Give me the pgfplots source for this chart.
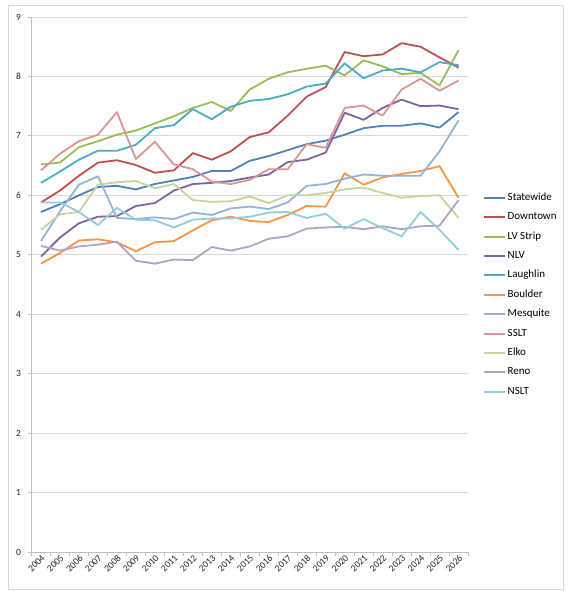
\documentclass[border=0pt]{standalone}
\usepackage{fontspec}
\setmainfont{Carlito}
\usepackage{pgfplots}
\usepackage{pgfplotstable}
\pgfplotsset{compat=1.18}
\definecolor{cState}{HTML}{4F81BD}
\definecolor{cDown}{HTML}{C0504D}
\definecolor{cStrip}{HTML}{9BBB59}
\definecolor{cNLV}{HTML}{8064A2}
\definecolor{cLau}{HTML}{4BACC6}
\definecolor{cBou}{HTML}{F79646}
\definecolor{cMes}{HTML}{95B3D7}
\definecolor{cSSLT}{HTML}{D99694}
\definecolor{cElko}{HTML}{C3D69B}
\definecolor{cReno}{HTML}{B3A2C7}
\definecolor{cNSLT}{HTML}{93CDDD}
\definecolor{gridgray}{HTML}{D9D9D9}
\definecolor{axisgray}{HTML}{BFBFBF}
\pgfplotstableread{
year State Down Strip NLV Lau Bou Mes SSLT Elko Reno NSLT
2004 5.72 5.88 6.52 4.97 6.21 4.85 5.23 6.42 5.42 5.15 5.88
2005 5.85 6.08 6.55 5.29 6.40 5.03 5.73 6.70 5.68 5.07 5.88
2006 6.00 6.33 6.81 5.53 6.60 5.24 6.18 6.91 5.72 5.14 5.72
2007 6.14 6.55 6.91 5.64 6.75 5.26 6.32 7.02 6.18 5.17 5.50
2008 6.16 6.59 7.02 5.65 6.75 5.21 5.62 7.40 6.22 5.22 5.79
2009 6.10 6.51 7.09 5.82 6.85 5.06 5.60 6.61 6.24 4.90 5.59
2010 6.19 6.38 7.21 5.87 7.13 5.21 5.63 6.90 6.12 4.85 5.58
2011 6.25 6.42 7.33 6.08 7.18 5.23 5.60 6.52 6.19 4.92 5.46
2012 6.31 6.71 7.47 6.19 7.45 5.41 5.71 6.44 5.92 4.91 5.59
2013 6.41 6.60 7.57 6.21 7.28 5.58 5.67 6.23 5.89 5.13 5.61
2014 6.41 6.74 7.42 6.24 7.49 5.64 5.78 6.19 5.90 5.07 5.61
2015 6.58 6.98 7.78 6.30 7.59 5.57 5.81 6.26 5.98 5.14 5.64
2016 6.66 7.06 7.96 6.35 7.62 5.55 5.77 6.44 5.87 5.27 5.71
2017 6.76 7.34 8.07 6.56 7.70 5.67 5.88 6.44 6.00 5.31 5.72
2018 6.86 7.66 8.13 6.60 7.83 5.82 6.16 6.86 6.00 5.44 5.62
2019 6.92 7.82 8.18 6.72 7.88 5.81 6.19 6.80 6.04 5.46 5.69
2020 7.02 8.41 8.02 7.39 8.22 6.37 6.28 7.47 6.10 5.47 5.44
2021 7.13 8.34 8.27 7.27 7.97 6.18 6.35 7.51 6.13 5.43 5.60
2022 7.17 8.37 8.17 7.47 8.10 6.30 6.33 7.34 6.04 5.48 5.45
2023 7.17 8.56 8.04 7.61 8.13 6.36 6.33 7.78 5.96 5.43 5.31
2024 7.21 8.50 8.06 7.50 8.07 6.41 6.33 7.96 5.99 5.48 5.72
2025 7.14 8.32 7.85 7.51 8.24 6.49 6.74 7.76 6.00 5.49 5.42
2026 7.40 8.15 8.44 7.45 8.19 5.96 7.26 7.93 5.62 5.92 5.08
}\data
\begin{document}
\begin{tikzpicture}[x=1bp,y=1bp]
\path[fill=white] (0,0) rectangle (573,600);
\draw[color=gridgray, line width=0.8bp] (8,11) rectangle (563,595);
\begin{axis}[
  at={(31.5bp,48bp)}, anchor=south west,
  scale only axis, width=436.5bp, height=535bp,
  xmin=2003.5, xmax=2026.5, ymin=0, ymax=9,
  axis x line*=bottom, axis y line*=left,
  axis line style={draw=axisgray, line width=0.8bp, -},
  xtick={2004,2005,...,2026}, ytick={0,1,...,9},
  minor xtick={2003.5,2004.5,...,2026.5},
  minor ytick={0,1,...,9},
  major tick length=0pt, minor tick length=4bp,
  tick align=outside,
  minor tick style={draw=axisgray, line width=0.8bp},
  ymajorgrids, major grid style={draw=gridgray, line width=0.8bp},
  /pgf/number format/assume math mode=true,
  /pgf/number format/1000 sep={},
  ticklabel style={font=\fontsize{9.5}{11}\selectfont, text=black!85},
  xticklabel style={rotate=45, anchor=north east, inner sep=1.5bp},
  yticklabel style={inner sep=2bp, xshift=-8.5bp},
  legend cell align=left,
  legend image code/.code={\draw[#1, line width=2bp] (0bp,0bp) -- (21bp,0bp);},
  legend style={at={(1.0344,0.671)}, anchor=north west, draw=none, fill=none,
    inner sep=0pt, row sep=10.4bp, font=\fontsize{11}{12}\selectfont,
    nodes={inner sep=0pt, text height=7bp, text depth=2bp},
    /tikz/every odd column/.append style={column sep=1.5bp}},
  every axis plot/.append style={line width=1.8bp, line join=round, mark=none},
]
\addplot[cState] table[x=year,y=State]{\data}; \addlegendentry{Statewide}
\addplot[cDown] table[x=year,y=Down]{\data}; \addlegendentry{Downtown}
\addplot[cStrip] table[x=year,y=Strip]{\data}; \addlegendentry{LV Strip}
\addplot[cNLV] table[x=year,y=NLV]{\data}; \addlegendentry{NLV}
\addplot[cLau] table[x=year,y=Lau]{\data}; \addlegendentry{Laughlin}
\addplot[cBou] table[x=year,y=Bou]{\data}; \addlegendentry{Boulder}
\addplot[cMes] table[x=year,y=Mes]{\data}; \addlegendentry{Mesquite}
\addplot[cSSLT] table[x=year,y=SSLT]{\data}; \addlegendentry{SSLT}
\addplot[cElko] table[x=year,y=Elko]{\data}; \addlegendentry{Elko}
\addplot[cReno] table[x=year,y=Reno]{\data}; \addlegendentry{Reno}
\addplot[cNSLT] table[x=year,y=NSLT]{\data}; \addlegendentry{NSLT}
\end{axis}
\end{tikzpicture}
\end{document}
